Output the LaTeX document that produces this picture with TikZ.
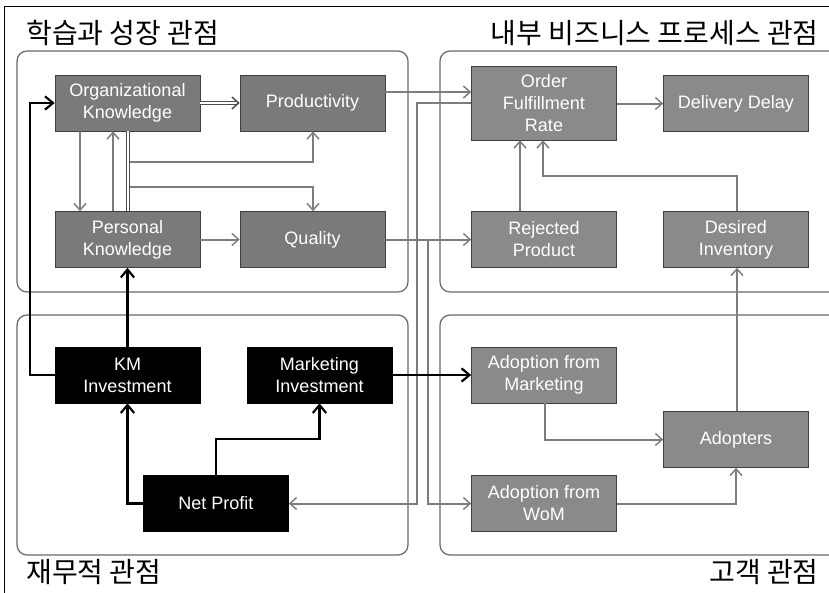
\documentclass[tikz,border=0pt]{standalone}
\usepackage{fontspec}
\setmainfont{Liberation Sans}
\newfontfamily\krfont{Noto Sans CJK KR}
\usetikzlibrary{arrows.meta}
\definecolor{boxgrayA}{RGB}{122,122,122}
\definecolor{boxgrayB}{RGB}{138,138,138}
\definecolor{linegray}{RGB}{125,125,125}
\definecolor{panelgray}{RGB}{105,105,105}

\begin{document}
\begin{tikzpicture}[x=0.75pt,y=-0.75pt,
  panel/.style={draw=panelgray, line width=0.9pt, rounded corners=7.5pt},
  title/.style={font=\krfont\fontsize{21}{24}\selectfont, inner sep=0pt},
  boxbase/.style={draw=black!75, line width=0.5pt, text=white, align=center,
    inner sep=0pt, minimum width=108.75pt, minimum height=42pt,
    font=\fontsize{13.5}{16.5}\selectfont},
  gboxA/.style={boxbase, fill=boxgrayA},
  gboxB/.style={boxbase, fill=boxgrayB},
  kbox/.style={boxbase, fill=black, draw=black},
  gline/.style={draw=linegray, line width=1.5pt},
  garrow/.style={gline, -{Straight Barb[length=5pt,width=9pt,line width=1.1pt]}},
  gthinarrow/.style={draw=linegray, line width=0.8pt, -{Straight Barb[length=5pt,width=9pt,line width=1.1pt]}},
  dline/.style={draw=black!70, line width=0.5pt, double=white, double distance=1.3pt},
  darrow/.style={dline, -{Straight Barb[length=5pt,width=9pt,line width=1.1pt]}},
  barrow/.style={draw=black, line width=2.2pt, -{Straight Barb[length=6pt,width=10pt,line width=1.6pt]}}
]
\useasboundingbox (0,0) rectangle (829,593);

% outer frame
\draw[black, line width=0.75pt] (4,610) -- (4,6) -- (840,6);

% perspective panels
\draw[panel] (17,51) rectangle (408,292);
\draw[panel] (440,51) rectangle (845,292);
\draw[panel] (17,315) rectangle (408,555);
\draw[panel] (440,315) rectangle (845,555);

% perspective titles
\node[title, anchor=west] (tLG) at (26,33) {학습과 성장 관점};
\node[title, anchor=east] (tIP) at (819,33) {내부 비즈니스 프로세스 관점};
\node[title, anchor=west] (tFN) at (26,572) {재무적 관점};
\node[title, anchor=east] (tCU) at (819,572) {고객 관점};

% learning & growth
\node[gboxA] (org)  at (127.5,103)   {Organizational\\Knowledge};
\node[gboxA] (prod) at (312.5,103)   {Productivity};
\node[gboxA] (pers) at (127.5,239.5) {Personal\\Knowledge};
\node[gboxA] (qual) at (312.5,239.5) {Quality};

% internal process
\node[gboxB, minimum height=55.5pt] (ofr) at (544,103) {Order\\Fulfillment\\Rate};
\node[gboxB] (dd)   at (736,103.5) {Delivery Delay};
\node[gboxB] (rej)  at (544,239.5) {Rejected\\Product};
\node[gboxB] (dinv) at (736,239.5) {Desired\\Inventory};

% customer
\node[gboxB] (afm)   at (544,375)   {Adoption from\\Marketing};
\node[gboxB] (adopt) at (736,439.5) {Adopters};
\node[gboxB] (wom)   at (544,503.5) {Adoption from\\WoM};

% financial
\node[kbox] (km) at (127.5,375)   {KM\\Investment};
\node[kbox] (mi) at (319.5,375)   {Marketing\\Investment};
\node[kbox] (np) at (216,503.5)   {Net Profit};

% junction points
\coordinate (busA) at (130,162);
\coordinate (busB) at (130,187);
\coordinate (qj)   at (428,239.5);

% learning & growth links
\draw[darrow] (org) -- (prod);
\draw[garrow] (org.south -| 80,0) -- (pers.north -| 80,0);
\draw[garrow] (pers.north -| 113,0) -- (org.south -| 113,0);
\draw[dline] (org.south -| 128,0) -- (pers.north -| 128,0);
\draw[garrow] (busA) -| (prod.south -| 313,0);
\draw[garrow] (busB) -| (qual.north -| 313,0);
\draw[garrow] (pers) -- (qual);

% cross-perspective links
\draw[garrow] (prod.east |- 0,92) -- (ofr.west |- 0,92);
\draw[garrow] (qual) -- (rej);
\draw[garrow] (ofr.west |- 0,103) -- (417,103) -- (417,503.5) -- (np.east);
\draw[garrow] (qj) -- (428,503.5) -- (wom.west);

% internal process links
\draw[garrow] (ofr.east |- dd) -- (dd.west);
\draw[garrow] (rej.north -| 520,0) -- (ofr.south -| 520,0);
\draw[garrow] (dinv.north -| 737,0) -- (737,176) -- (543,176) -- (ofr.south -| 543,0);

% customer links
\draw[gthinarrow] (adopt.north -| 737,0) -- (dinv.south -| 737,0);
\draw[garrow] (afm.south -| 545,0) |- (adopt.west);
\draw[garrow] (wom.east) -| (adopt.south -| 736,0);

% investment links
\draw[barrow] (mi) -- (afm);
\draw[barrow] (km.west) -- (30,375) |- (org.west);
\draw[barrow] (km) -- (pers);
\draw[barrow] (np.west) -| (km.south);
\draw[barrow] (np.north) -- (216,439) -| (mi.south);
\end{tikzpicture}
\end{document}
